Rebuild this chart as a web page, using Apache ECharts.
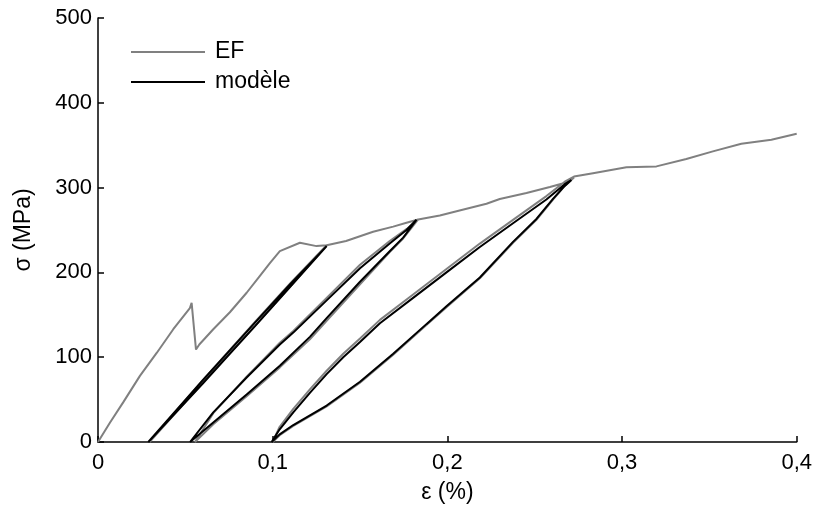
<!DOCTYPE html>
<html>
<head>
<meta charset="utf-8">
<script src="https://cdn.jsdelivr.net/npm/echarts@6/dist/echarts.min.js"></script>
<style>html,body{margin:0;padding:0;background:#fff}#c{width:815px;height:509px}</style>
</head>
<body>
<div id="c"></div>
<script>
// x tick labels / y tick labels
var xTicks = [0, 0.1, 0.2, 0.3, 0.4];
var yTicks = [0, 100, 200, 300, 400, 500];

// EF (gray) – pieces in path order
var efRise = [[0,0],[0.0069,23],[0.0145,47],[0.024,78],[0.0336,105],[0.0431,133],[0.0526,158],[0.0536,164],[0.0561,109],[0.058,115],[0.066,133],[0.0755,153],[0.0851,176],[0.0927,196],[0.0984,211],[0.1041,225],[0.1156,235],[0.1251,231],[0.1309,232]];
var efLoop1 = [[0.11,183],[0.09,137],[0.06,70],[0.0295,0],[0.06,73],[0.09,142],[0.11,187],[0.1309,232]];
var efEnv2 = [[0.142,237],[0.1575,248],[0.169,254],[0.1766,258.5],[0.1833,262.4]];
var efLoop2 = [[0.1747,240],[0.167,224],[0.15,186],[0.1309,143],[0.1213,121],[0.1041,88],[0.0851,54],[0.066,21],[0.0555,0],[0.066,34],[0.0851,77],[0.1041,117],[0.1118,131],[0.1309,170],[0.15,209],[0.167,237],[0.1766,251],[0.1833,262.4]];
var efEnv3 = [[0.1957,267],[0.207,273],[0.2224,281],[0.230,286.6],[0.2453,293.7],[0.2587,300.8],[0.268,306],[0.2725,312]];
var efLoop3 = [[0.2672,302],[0.2606,286],[0.251,262],[0.2376,235],[0.2186,193],[0.1995,159],[0.188,138],[0.169,103],[0.15,70],[0.1309,42],[0.1118,19],[0.104,8],[0.1,0],[0.104,18],[0.1118,39],[0.1213,62],[0.1309,84],[0.1404,104],[0.15,122],[0.1614,144],[0.1804,174],[0.1995,204],[0.2186,234],[0.2376,262],[0.2567,290],[0.2672,307],[0.2725,313]];
var efEnv4 = [[0.2834,317],[0.3025,324],[0.3197,325],[0.3368,333.7],[0.352,342.7],[0.3683,351.8],[0.3855,356.5],[0.4,363.5]];

// modèle (black) – three closed loops
var modLoop1 = [[0.0288,0],[0.06,73],[0.09,141],[0.11,186],[0.1309,231],[0.11,183],[0.09,137],[0.06,69],[0.0288,0]];
var modLoop2 = [[0.0527,0],[0.066,35],[0.0851,76],[0.1041,115],[0.1118,129],[0.1309,167],[0.15,205],[0.167,234],[0.1766,250],[0.1823,262],[0.1747,241],[0.167,225],[0.15,189],[0.1309,146],[0.1213,124],[0.1041,90],[0.0851,56],[0.066,23],[0.0527,0]];
var modLoop3 = [[0.0994,0],[0.104,15],[0.1118,35],[0.1213,58],[0.1309,80],[0.1404,100],[0.15,118],[0.1614,140],[0.1804,170],[0.1995,200],[0.2186,230],[0.2376,258],[0.2567,286],[0.2672,304],[0.271,309],[0.2672,302],[0.2606,287],[0.251,263],[0.2376,236],[0.2186,194],[0.1995,160],[0.188,139],[0.169,104],[0.15,71],[0.1309,43],[0.1118,20],[0.104,9],[0.0994,0]];

var efData = efRise.concat(efLoop1, efEnv2, efLoop2, efEnv3, efLoop3, efEnv4);
var FONT = 'Liberation Sans, Arial, sans-serif';

function modSeries(d) {
  return {name:'modèle', type:'line', data:d, showSymbol:false, symbol:'none', smooth:false,
    lineStyle:{color:'#000', width:2}, itemStyle:{color:'#000'}, z:3};
}

var chart = echarts.init(document.getElementById('c'), null, {renderer:'canvas'});
chart.setOption({
  animation:false,
  backgroundColor:'#fff',
  grid:{left:98, right:18, top:18, bottom:66, containLabel:false},
  legend:{
    left:126, top:35, orient:'vertical', icon:'rect', itemWidth:74, itemHeight:2, itemGap:6,
    textStyle:{fontFamily:FONT, fontSize:23, lineHeight:24, color:'#000', padding:[0,0,0,5]},
    data:[{name:'EF'},{name:'modèle'}]
  },
  xAxis:{
    type:'value', min:xTicks[0], max:xTicks[xTicks.length-1], interval:0.1,
    name:'ε (%)', nameLocation:'middle', nameGap:39,
    nameTextStyle:{fontFamily:FONT, fontSize:23, color:'#000'},
    axisLine:{show:true, lineStyle:{color:'#000', width:1.5}},
    axisTick:{show:true, inside:true, length:6, lineStyle:{color:'#000', width:1.5}},
    axisLabel:{fontFamily:FONT, fontSize:22, color:'#000', margin:10,
      formatter:function(v){return String(+v.toFixed(2)).replace('.', ',');}},
    splitLine:{show:false}
  },
  yAxis:{
    type:'value', min:yTicks[0], max:yTicks[yTicks.length-1], interval:100,
    name:'σ (MPa)', nameLocation:'middle', nameGap:63, nameRotate:90,
    nameTextStyle:{fontFamily:FONT, fontSize:23, color:'#000'},
    axisLine:{show:true, lineStyle:{color:'#000', width:1.5}},
    axisTick:{show:true, inside:true, length:6, lineStyle:{color:'#000', width:1.5}},
    axisLabel:{fontFamily:FONT, fontSize:22, color:'#000', margin:6},
    splitLine:{show:false}
  },
  series:[
    {name:'EF', type:'line', data:efData, showSymbol:false, symbol:'none', smooth:false,
      lineStyle:{color:'#808080', width:2}, itemStyle:{color:'#808080'}, z:2},
    modSeries(modLoop1), modSeries(modLoop2), modSeries(modLoop3)
  ]
});
</script>
</body>
</html>
